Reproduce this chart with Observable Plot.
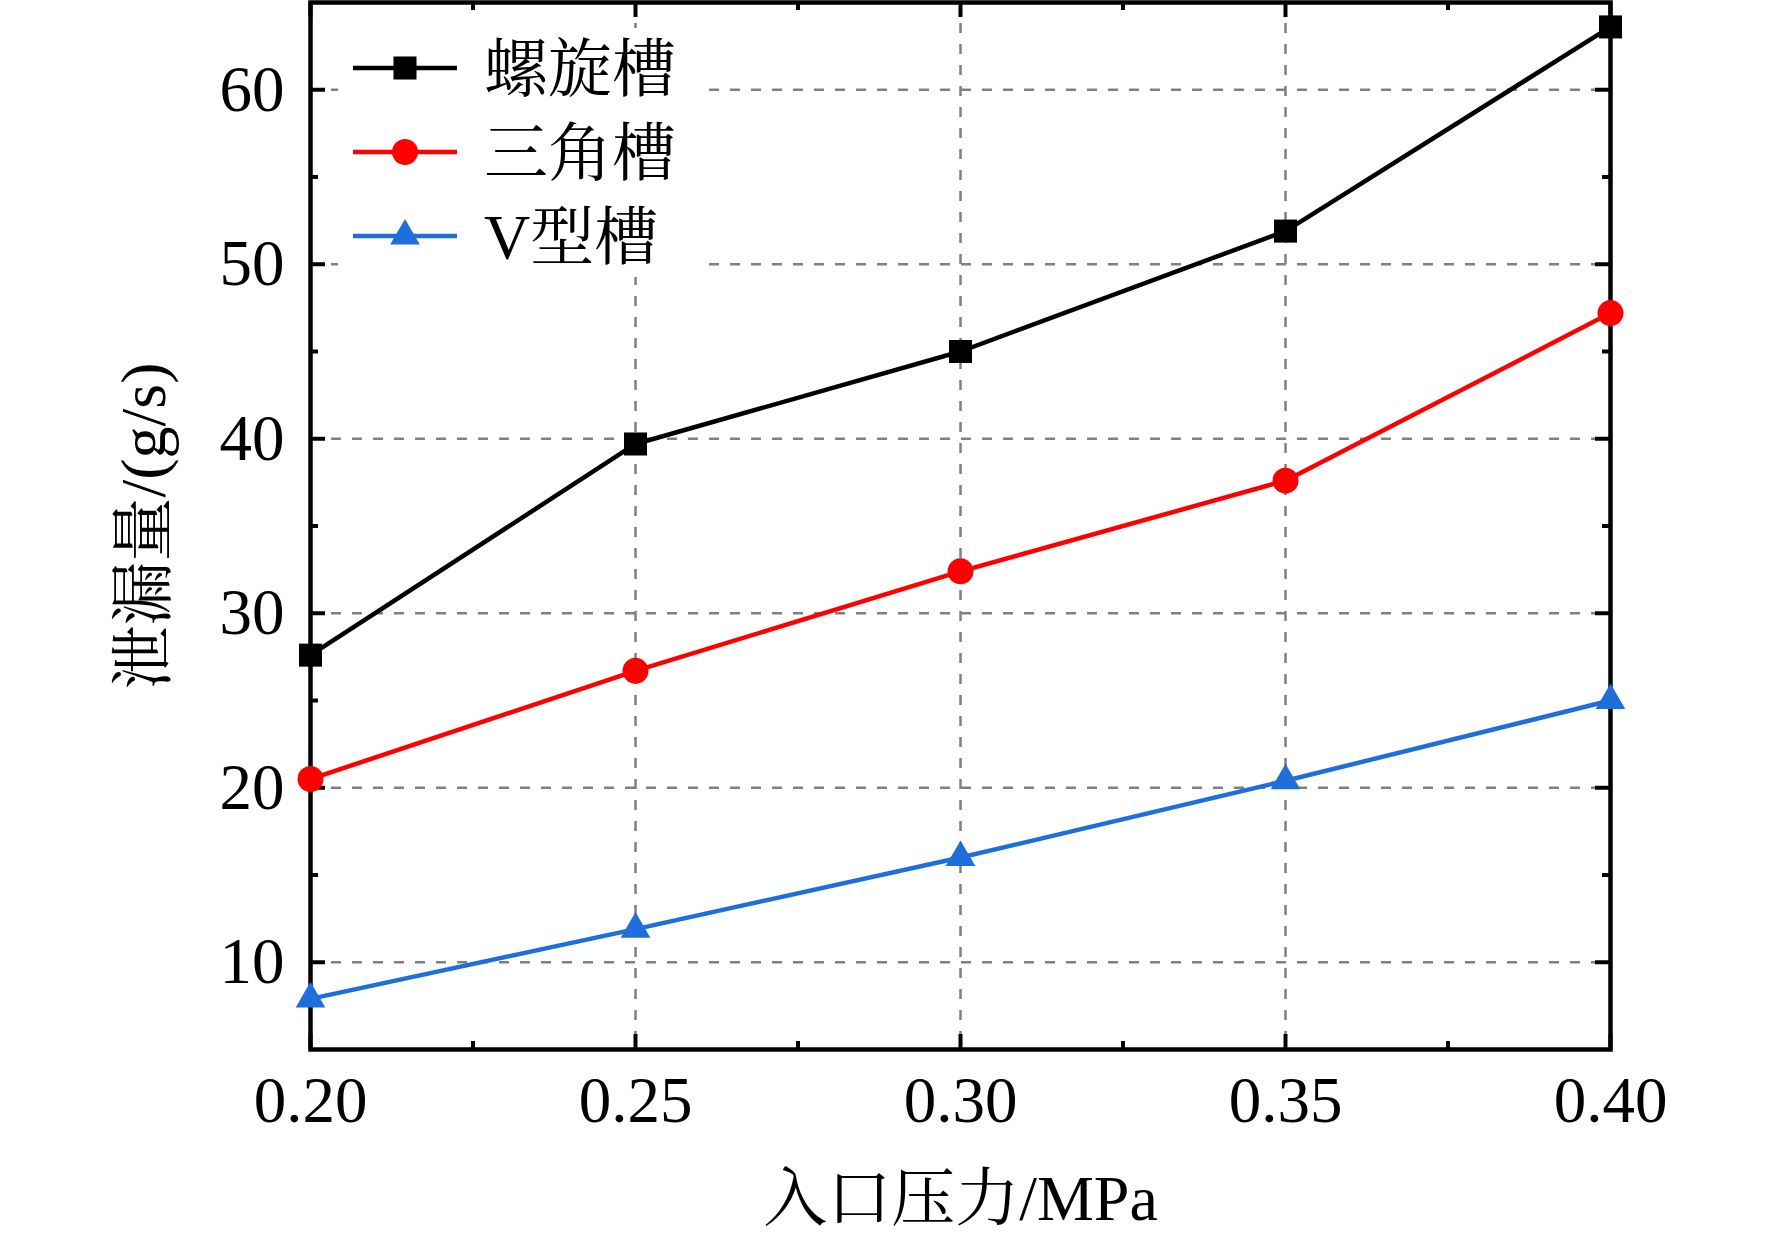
<!DOCTYPE html>
<html>
<head>
<meta charset="utf-8">
<script src="https://cdn.jsdelivr.net/npm/d3@7"></script>
<script src="https://cdn.jsdelivr.net/npm/@observablehq/plot@0.6"></script>
<style>
  html, body { margin: 0; padding: 0; background: #fff; }
  #chart { width: 1772px; height: 1242px; }
</style>
</head>
<body>
<div id="chart"></div>
<script>
// ---- data ----
const pressure = [0.20, 0.25, 0.30, 0.35, 0.40];
const seriesNames = ["螺旋槽", "三角槽", "V型槽"];
const spiralGroove = [27.6, 39.7, 45.0, 51.9, 63.6];
const triangleGroove = [20.5, 26.7, 32.4, 37.6, 47.2];
const vGroove = [7.9, 11.9, 16.0, 20.4, 25.0];
const xTicks = [0.20, 0.25, 0.30, 0.35, 0.40];
const xMinorTicks = [0.225, 0.275, 0.325, 0.375];
const yTicks = [10, 20, 30, 40, 50, 60];
const yMinorTicks = [15, 25, 35, 45, 55];
const xLabel = "入口压力/MPa";
const yLabel = "泄漏量/(g/s)";

// ---- styling ----
const seriesColors = ["#000000", "#ff0000", "#1e6fdb"];
const seriesSymbols = ["square", "circle", "triangle"];
const seriesR = [13, 13, 11];
const d3Symbols = {square: d3.symbolSquare, circle: d3.symbolCircle, triangle: d3.symbolTriangle};
const FONT = '"Liberation Serif", "Times New Roman", "Noto Serif CJK SC", "Noto Sans CJK SC", serif';

const W = 1772, H = 1242;
const mL = 310, mR = 162, mT = 2, mB = 193;
const iw = W - mL - mR, ih = H - mT - mB;
const majorLen = 15, minorLen = 8;
const lineW = 4.5;

const seriesValues = [spiralGroove, triangleGroove, vGroove];
const series = seriesNames.map((name, i) => ({
  name,
  color: seriesColors[i],
  symbol: seriesSymbols[i],
  r: seriesR[i],
  rows: pressure.map((p, j) => ({x: p, y: seriesValues[i][j], series: name}))
}));

const gridStyle = {stroke: "#808080", strokeOpacity: 1, strokeWidth: 2.5, strokeDasharray: "10,11"};
const tickStyle = {stroke: "#000", strokeWidth: 4};

function legendMark(index, scales, values, dims) {
  const {marginLeft, marginTop} = dims;
  const g = d3.create("svg:g");
  g.append("rect")
    .attr("x", marginLeft + 28).attr("y", marginTop + 26)
    .attr("width", 368).attr("height", 249)
    .attr("fill", "#fff");
  series.forEach((s, i) => {
    const cy = marginTop + 66 + i * 84;
    g.append("line")
      .attr("x1", marginLeft + 43).attr("x2", marginLeft + 147)
      .attr("y1", cy).attr("y2", cy)
      .attr("stroke", s.color).attr("stroke-width", lineW);
    g.append("path")
      .attr("d", d3.symbol(d3Symbols[s.symbol], Math.PI * s.r * s.r)())
      .attr("transform", `translate(${marginLeft + 95},${cy})`)
      .attr("fill", s.color);
    g.append("text")
      .attr("x", marginLeft + 174).attr("y", cy + 23)
      .attr("text-anchor", "start")
      .attr("font-family", FONT).attr("font-size", 64)
      .attr("fill", "#000")
      .text(s.name);
  });
  return g.node();
}

const marks = [
  Plot.gridY(yTicks, gridStyle),
  Plot.gridX(xTicks.slice(1, -1), gridStyle),
  legendMark,
  // inward ticks: left / right
  Plot.tickY(yTicks, {y: d => d, insetRight: iw - majorLen, ...tickStyle}),
  Plot.tickY(yTicks, {y: d => d, insetLeft: iw - majorLen, ...tickStyle}),
  Plot.tickY(yMinorTicks, {y: d => d, insetRight: iw - minorLen, ...tickStyle}),
  Plot.tickY(yMinorTicks, {y: d => d, insetLeft: iw - minorLen, ...tickStyle}),
  // inward ticks: bottom / top
  Plot.tickX(xTicks, {x: d => d, insetTop: ih - majorLen, ...tickStyle}),
  Plot.tickX(xTicks, {x: d => d, insetBottom: ih - majorLen, ...tickStyle}),
  Plot.tickX(xMinorTicks, {x: d => d, insetTop: ih - minorLen, ...tickStyle}),
  Plot.tickX(xMinorTicks, {x: d => d, insetBottom: ih - minorLen, ...tickStyle}),
  Plot.frame({stroke: "#000", strokeWidth: 4.5}),
  Plot.axisX(xTicks, {tickSize: 0, tickPadding: 26, tickFormat: d3.format(".2f"), fontSize: 65, label: null, fill: "#000"}),
  Plot.axisY(yTicks, {tickSize: 0, tickPadding: 26, fontSize: 65, label: null, fill: "#000"}),
  Plot.text([yLabel], {text: d => d, frameAnchor: "left", dx: -166, rotate: -90, fontSize: 64, fill: "#000", lineAnchor: "middle", textAnchor: "middle"}),
  Plot.text([xLabel], {text: d => d, frameAnchor: "bottom", dy: 150, fontSize: 64, fill: "#000", lineAnchor: "middle", textAnchor: "middle"})
];
series.forEach(s => {
  marks.push(Plot.line(s.rows, {x: "x", y: "y", stroke: s.color, strokeWidth: lineW}));
});
series.forEach(s => {
  marks.push(Plot.dot(s.rows, {x: "x", y: "y", symbol: s.symbol, r: s.r, fill: s.color, stroke: "none"}));
});

const chart = Plot.plot({
  width: W, height: H,
  marginLeft: mL, marginRight: mR, marginTop: mT, marginBottom: mB,
  x: {domain: [0.2, 0.4]},
  y: {domain: [5, 65]},
  style: {fontFamily: FONT, background: "#fff", color: "#000"},
  marks
});
document.getElementById("chart").appendChild(chart);
</script>
</body>
</html>
